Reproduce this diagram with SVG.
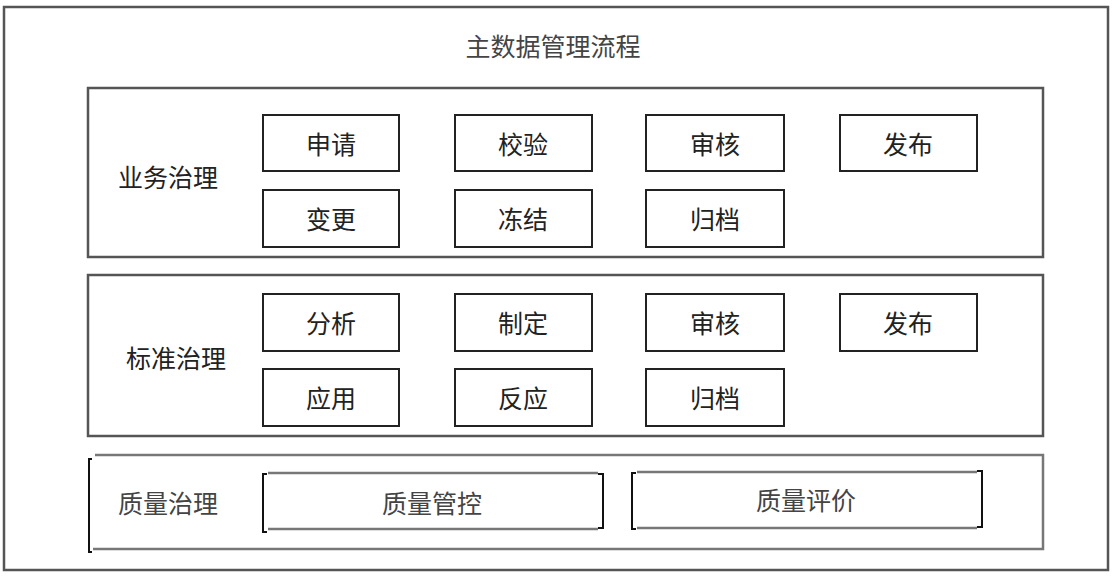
<svg xmlns="http://www.w3.org/2000/svg" width="1116" height="580" viewBox="0 0 1116 580">
<style>
text{font-family:"Noto Sans CJK SC","Noto Sans",sans-serif;text-anchor:middle;dominant-baseline:central}
.lbl{font-size:25px;fill:#222}
.glbl{font-size:25px;fill:#444}
.title{font-size:25px;fill:#444}
.box{fill:#fff;stroke:#222;stroke-width:2}
.panel{fill:#fff;stroke:#555;stroke-width:2.5}
.gline{stroke:#777;stroke-width:2.5;fill:none}
.brk{stroke:#111;stroke-width:2;fill:none}
</style>
<rect width="1116" height="580" fill="#fff"/>
<g id="frame">
<rect x="4" y="7" width="1104" height="563" fill="#fff" stroke="#555" stroke-width="2.5"/>
<text class="title" x="553" y="45">主数据管理流程</text>
</g>
<g id="panel-business">
<rect class="panel" x="88" y="88" width="955" height="169"/>
<text class="lbl" x="168" y="176">业务治理</text>
</g>
<g id="b-apply"><rect class="box" x="263" y="115" width="136" height="56"/><text class="lbl" x="331" y="143">申请</text></g>
<g id="b-verify"><rect class="box" x="455" y="115" width="137" height="56"/><text class="lbl" x="523" y="143">校验</text></g>
<g id="b-review"><rect class="box" x="646" y="115" width="138" height="56"/><text class="lbl" x="715" y="143">审核</text></g>
<g id="b-publish"><rect class="box" x="840" y="115" width="137" height="56"/><text class="lbl" x="908" y="143">发布</text></g>
<g id="b-change"><rect class="box" x="263" y="190" width="136" height="57"/><text class="lbl" x="331" y="218">变更</text></g>
<g id="b-freeze"><rect class="box" x="455" y="190" width="137" height="57"/><text class="lbl" x="523" y="218">冻结</text></g>
<g id="b-archive"><rect class="box" x="646" y="190" width="138" height="57"/><text class="lbl" x="715" y="218">归档</text></g>

<g id="panel-standard">
<rect class="panel" x="88" y="275" width="955" height="161"/>
<text class="lbl" x="176" y="357">标准治理</text>
</g>
<g id="s-analyze"><rect class="box" x="263" y="294" width="136" height="57"/><text class="lbl" x="331" y="322">分析</text></g>
<g id="s-define"><rect class="box" x="455" y="294" width="137" height="57"/><text class="lbl" x="523" y="322">制定</text></g>
<g id="s-review"><rect class="box" x="646" y="294" width="138" height="57"/><text class="lbl" x="715" y="322">审核</text></g>
<g id="s-publish"><rect class="box" x="840" y="294" width="137" height="57"/><text class="lbl" x="908" y="322">发布</text></g>
<g id="s-apply"><rect class="box" x="263" y="369" width="136" height="57"/><text class="lbl" x="331" y="397">应用</text></g>
<g id="s-feedback"><rect class="box" x="455" y="369" width="137" height="57"/><text class="lbl" x="523" y="397">反应</text></g>
<g id="s-archive"><rect class="box" x="646" y="369" width="138" height="57"/><text class="lbl" x="715" y="397">归档</text></g>

<g id="panel-quality">
<path class="gline" d="M95 455 H1043 V549 H93"/>
<path class="brk" d="M92 459 H89 V552 H92" stroke="#444"/>
<text class="glbl" x="168" y="502">质量治理</text>
</g>
<g id="q-control">
<path class="gline" d="M268 473 H598 M268 529 H598"/>
<path class="brk" d="M267 474 H263 V532 H267 M598 474 H603 V528 H598"/>
<text class="glbl" x="432" y="502">质量管控</text>
</g>
<g id="q-evaluate">
<path class="gline" d="M637 472 H977 M637 528 H977"/>
<path class="brk" d="M636 473 H632 V529 H636 M977 471 H982 V527 H977"/>
<text class="glbl" x="806" y="499">质量评价</text>
</g>
<g id="connectors"></g>
</svg>
